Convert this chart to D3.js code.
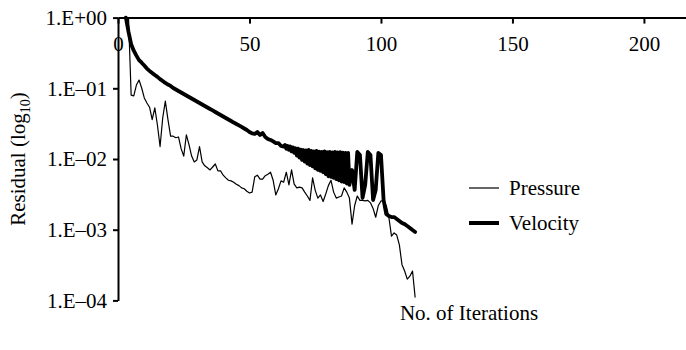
<!DOCTYPE html>
<html>
<head>
<meta charset="utf-8">
<script src="https://cdn.jsdelivr.net/npm/d3@7"></script>
<style>
  html, body { margin: 0; padding: 0; background: #fff; }
  svg text { font-family: "Liberation Serif", Tinos, "Times New Roman", Times, "Noto Serif", "DejaVu Serif", serif !important; }
</style>
</head>
<body>
<svg id="chart" width="686" height="350"></svg>
<script>
// ---- data ----
const xTicks = [0, 50, 100, 150, 200];
const yTicks = [1, 1e-1, 1e-2, 1e-3, 1e-4];
const yTickLabels = ["1.E+00", "1.E\u201301", "1.E\u201302", "1.E\u201303", "1.E\u201304"];
const seriesNames = ["Pressure", "Velocity"];

// Pressure residual, one value per iteration starting at iteration 4
const pressureStart = 4;
const pressureValues = [
  1.0, 8.0e-2, 7.8e-2, 0.111, 0.131, 0.101, 7.3e-2, 6.2e-2, 5.4e-2, 3.6e-2,
  5.3e-2, 3.0e-2, 1.5e-2, 3.8e-2, 6.6e-2, 3.6e-2, 2.1e-2, 2.1e-2, 2.0e-2, 2.05e-2,
  1.4e-2, 1.1e-2, 2.2e-2, 1.6e-2, 1.1e-2, 9.1e-3, 9.7e-3, 1.5e-2, 9.1e-3, 8.0e-3,
  7.5e-3, 7.0e-3, 7.7e-3, 8.5e-3, 6.8e-3, 6.8e-3, 5.9e-3, 5.4e-3, 5.0e-3, 4.9e-3,
  4.7e-3, 4.4e-3, 4.2e-3, 3.9e-3, 3.8e-3, 3.5e-3, 3.3e-3, 3.4e-3, 5.6e-3, 5.9e-3,
  5.2e-3, 5.2e-3, 5.8e-3, 6.1e-3, 6.5e-3, 5.0e-3, 3.1e-3, 3.8e-3, 4.9e-3, 4.7e-3,
  6.5e-3, 4.3e-3, 7.0e-3, 4.4e-3, 3.9e-3, 4.0e-3, 3.9e-3, 3.4e-3, 3.0e-3, 2.6e-3,
  5.4e-3, 3.6e-3, 2.8e-3, 3.1e-3, 2.5e-3, 3.2e-3, 4.2e-3, 5.0e-3, 3.4e-3, 2.8e-3,
  2.9e-3, 3.0e-3, 3.9e-3, 3.4e-3, 2.8e-3, 1.2e-3, 2.2e-3, 3.0e-3, 2.6e-3, 2.6e-3,
  2.55e-3, 2.6e-3, 2.4e-3, 2.0e-3, 1.5e-3, 2.2e-3, 2.55e-3, 2.55e-3, 2.2e-3, 1.5e-3,
  8.1e-4, 9.0e-4, 8.4e-4, 6.1e-4, 3.2e-4, 2.6e-4, 2.0e-4, 2.2e-4, 2.6e-4, 1.1e-4
];

// Velocity residual: iterations 3..62 (whole steps)
const velocityEarlyStart = 3;
const velocityEarly = [
  1.0, 0.63, 0.42, 0.34, 0.29, 0.25, 0.23, 0.21, 0.19, 0.176,
  0.165, 0.154, 0.145, 0.135, 0.127, 0.119, 0.113, 0.108, 0.101, 0.0962,
  0.0916, 0.0872, 0.0830, 0.0791, 0.0753, 0.0717, 0.0683, 0.0651, 0.0620, 0.0590,
  0.0562, 0.0535, 0.0510, 0.0486, 0.0462, 0.0440, 0.0419, 0.0399, 0.0380, 0.0362,
  0.0345, 0.0328, 0.0313, 0.0298, 0.0284, 0.0270, 0.0257, 0.0241, 0.0230, 0.0226,
  0.0241, 0.0218, 0.0233, 0.0205, 0.0192, 0.0186, 0.0177, 0.0168, 0.0168, 0.0153
];
// Velocity residual: oscillating band, half-iteration sub-steps 63..88
const velocityBandIter = [
  63, 63.5, 64, 64.5, 65, 65.5, 66, 66.5, 67, 67.5, 68, 68.5, 69, 69.5, 70, 70.5,
  71, 71.5, 72, 72.5, 73, 73.5, 74, 74.5, 75, 75.5, 76, 76.5, 77, 77.5, 78, 78.5,
  79, 79.5, 80, 80.5, 81, 81.5, 82, 82.5, 83, 83.5, 84, 84.5, 85, 85.5, 86, 86.5,
  87, 87.5, 88
];
const velocityBand = [
  0.0150, 0.0158, 0.0140, 0.0153, 0.0135, 0.0150, 0.0128, 0.0146, 0.0122, 0.0142,
  0.0112, 0.0140, 0.0105, 0.0136, 0.0097, 0.0134, 0.0092, 0.0132, 0.0086, 0.0134,
  0.0082, 0.0130, 0.0079, 0.0128, 0.0074, 0.0130, 0.0070, 0.0127, 0.0068, 0.0126,
  0.0065, 0.0128, 0.0061, 0.0125, 0.0057, 0.0126, 0.0056, 0.0124, 0.0054, 0.0126,
  0.0052, 0.0124, 0.0050, 0.0125, 0.0048, 0.0123, 0.0047, 0.0122, 0.0045, 0.0122,
  0.0043
];
// Velocity residual: spikes and final drop, iterations 89..113
const velocityLateStart = 89;
const velocityLate = [
  0.00698, 0.00365, 0.0126, 0.0114, 0.00281, 0.00429, 0.0126, 0.0114, 0.00263, 0.00365,
  0.0122, 0.0114, 0.00263, 0.00167, 0.00156, 0.00151, 0.00151, 0.00142, 0.00133, 0.00124,
  0.00120, 0.00113, 0.00106, 0.00099, 0.00093
];

// ---- build ----
const pressure = pressureValues.map((v, i) => ({ it: pressureStart + i, v }));
const velocity = [
  ...velocityEarly.map((v, i) => ({ it: velocityEarlyStart + i, v })),
  ...velocityBand.map((v, i) => ({ it: velocityBandIter[i], v })),
  ...velocityLate.map((v, i) => ({ it: velocityLateStart + i, v }))
];

const svg = d3.select("#chart");
const FONT = 21;

const x = d3.scaleLinear().domain([0, 216]).range([118, 686]);
const y = d3.scaleLog().domain([1, 1e-4]).range([17.6, 300.4]);

// Top axis (ticks pointing into the plot, labels below line)
const xAxis = d3.axisBottom(x).tickValues(xTicks).tickFormat(d3.format("d"))
  .tickSizeInner(6).tickSizeOuter(0).tickPadding(12.5);
const gx = svg.append("g").attr("transform", `translate(0,${y(1)})`).call(xAxis);
gx.attr("font-family", null).attr("font-size", FONT);
gx.select(".domain").attr("stroke", "#000").attr("stroke-width", 2);
gx.selectAll(".tick line").attr("stroke", "#000").attr("stroke-width", 2);
gx.selectAll(".tick text").attr("font-size", FONT).attr("fill", "#000");

// Left axis
const yAxis = d3.axisLeft(y).tickValues(yTicks)
  .tickFormat((d, i) => yTickLabels[i])
  .tickSizeInner(5).tickSizeOuter(0).tickPadding(6);
const gy = svg.append("g").attr("transform", `translate(${x(0)},0)`).call(yAxis);
gy.attr("font-family", null).attr("font-size", FONT);
gy.select(".domain").attr("stroke", "#000").attr("stroke-width", 2);
gy.selectAll(".tick line").attr("stroke", "#000").attr("stroke-width", 2);
gy.selectAll(".tick text").attr("font-size", FONT).attr("fill", "#000");

// Lines
const line = d3.line().x(d => x(d.it)).y(d => y(d.v));
svg.append("path").datum(pressure).attr("d", line)
  .attr("fill", "none").attr("stroke", "#000").attr("stroke-width", 1.2)
  .attr("stroke-linejoin", "round");
svg.append("path").datum(velocity).attr("d", line)
  .attr("fill", "none").attr("stroke", "#000").attr("stroke-width", 3.8)
  .attr("stroke-linejoin", "round").attr("stroke-linecap", "round");

// Axis titles
const yTitle = svg.append("text")
  .attr("transform", "translate(25,159) rotate(-90)")
  .attr("text-anchor", "middle").attr("font-size", FONT).attr("fill", "#000");
yTitle.append("tspan").text("Residual (log");
yTitle.append("tspan").attr("font-size", 14).attr("dy", 5).text("10");
yTitle.append("tspan").attr("dy", -5).text(")");

svg.append("text").attr("x", 469).attr("y", 320)
  .attr("text-anchor", "middle").attr("font-size", FONT).attr("fill", "#000")
  .text("No. of Iterations");

// Legend
const legend = svg.append("g");
const legendWidths = [1.2, 4];
const legendY = [188, 223];
seriesNames.forEach((name, i) => {
  legend.append("line").attr("x1", 469).attr("x2", 499)
    .attr("y1", legendY[i]).attr("y2", legendY[i])
    .attr("stroke", "#000").attr("stroke-width", legendWidths[i]);
  legend.append("text").attr("x", 509).attr("y", legendY[i] + 7)
    .attr("font-size", FONT).attr("fill", "#000").text(name);
});
</script>
</body>
</html>
